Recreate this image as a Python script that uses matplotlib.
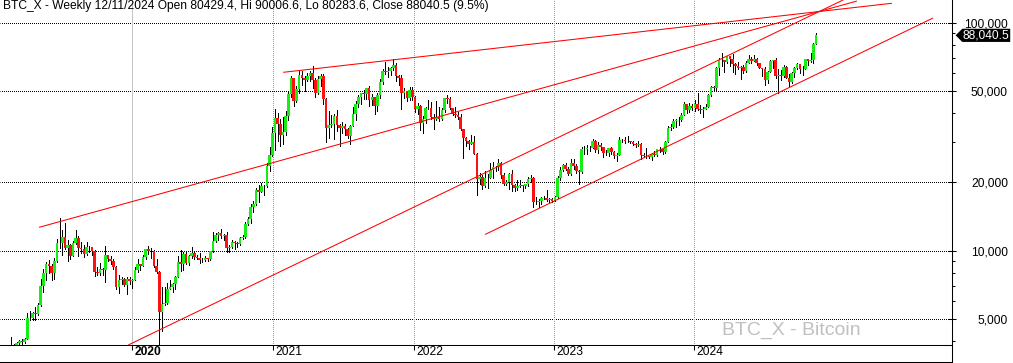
import numpy as np
import pandas as pd
import matplotlib
matplotlib.use("Agg")
import matplotlib.pyplot as plt
import matplotlib.dates as mdates
import matplotlib.ticker as mticker
from matplotlib.lines import Line2D
from matplotlib.path import Path
from matplotlib.transforms import ScaledTranslation, blended_transform_factory

plt.rcParams['font.family'] = ['Liberation Sans', 'DejaVu Sans']

# ---------------- data (weekly bars, Monday start) ----------------
first_week = "2019-01-14"
first_open = 3540

close_2019 = [3530, 3540, 3410, 3620, 3620, 3830, 3860, 3920, 4010, 3980,
              4100, 5060, 5070, 5320, 5260, 5800, 6970, 8010, 8720, 8560,
              7950, 8990, 10850, 10820, 11450, 10250, 10550, 9500, 10800, 11400,
              10300, 10140, 9630, 10400, 10360, 10000, 8050, 7990, 8270, 8220,
              9550, 9200, 9040, 8500, 6900, 7420, 7510, 7090, 7510, 7390, 7410]
high_2019 = [3700, 3640, 3560, 3680, 3700, 4200, 3900, 3970, 4050, 4080,
             4150, 5340, 5450, 5370, 5640, 5900, 7500, 8320, 8930, 9090,
             8760, 9300, 11200, 13880, 12300, 13200, 11100, 10650, 11080, 12300,
             11600, 10950, 10620, 10920, 10460, 10400, 10050, 8500, 8800, 8400,
             10500, 9600, 9480, 9150, 8600, 7860, 7650, 7570, 7650, 7690, 7500]
low_2019 = [3500, 3480, 3380, 3360, 3560, 3600, 3700, 3720, 3830, 3900,
            3920, 4080, 4950, 4950, 4950, 5200, 5700, 6600, 7450, 8000,
            7450, 7550, 8950, 10320, 9620, 10150, 9050, 9150, 9430, 10750,
            9500, 9800, 9350, 9600, 9900, 9600, 7750, 7800, 7850, 7850,
            7300, 9000, 8720, 8300, 6800, 6540, 7160, 6980, 6440, 7150, 6870]

close_2020 = [8190, 8700, 8600, 9350, 10170, 9920, 9990, 8560, 8040, 5390,
              5830, 5880, 6780, 6910, 7150, 7680, 8900, 8760, 9670, 8790,
              9450, 9760, 9390, 9300, 9100, 9070, 9270, 9200, 9930, 11060,
              11680, 11900, 11650, 11680, 10280, 10330, 10920, 10780, 10670, 11380,
              11490, 13030, 13740, 15480, 15960, 18410, 18180, 19150, 19140, 23480,
              26270, 32780]
high_2020 = [8450, 9190, 8750, 9590, 10200, 10500, 10240, 10020, 9180, 8180,
             6900, 6900, 7180, 7470, 7230, 7720, 9460, 10070, 9900, 9830,
             9600, 10380, 9950, 9600, 9770, 9300, 9450, 9330, 10000, 12090,
             11900, 12090, 12480, 11800, 12090, 10600, 11180, 10990, 10950, 11440,
             11700, 13330, 14090, 15960, 16480, 18800, 19420, 19900, 19420, 24300,
             28400, 34800]
low_2020 = [7400, 8090, 8250, 8570, 9150, 9700, 9300, 8450, 8000, 3860,
            4450, 5780, 5860, 6770, 6560, 6800, 7680, 8170, 8200, 8700,
            8650, 9300, 9200, 9200, 8850, 8950, 9000, 9050, 9130, 9900,
            10950, 11150, 11370, 11150, 9900, 9870, 10250, 10150, 10400, 10540,
            11250, 11420, 12950, 13200, 14850, 15870, 16330, 18000, 17620, 19000,
            22350, 26100]

close_2021 = [38360, 35790, 32290, 33110, 38900, 48720, 57400, 45140, 51200, 59000,
              57500, 55800, 58200, 60000, 56200, 49000, 56600, 58200, 46400, 34700,
              35700, 35800, 39100, 35600, 34700, 35300, 34260, 31800, 35400, 39900,
              43800, 47100, 49300, 48800, 51750, 46000, 47300, 43200, 48200, 54700,
              61500, 60900, 61300, 63300, 65500, 58600, 57300, 49400, 50100, 46700,
              50800, 47300]
high_2021 = [41950, 40100, 37860, 38530, 41000, 49700, 58350, 57500, 52600, 61780,
             61200, 58400, 60000, 61400, 64850, 57000, 58400, 59600, 59600, 46600,
             40900, 39500, 39900, 41300, 36000, 36600, 35900, 34600, 35500, 42600,
             45300, 48100, 49400, 50500, 51900, 52900, 48800, 47400, 49200, 56500,
             62900, 67000, 63700, 64200, 69000, 66300, 59200, 59100, 51900, 50200,
             52000, 52100]
low_2021 = [27700, 30400, 28850, 29240, 32300, 37400, 47000, 43000, 45000, 49300,
            53300, 50400, 55600, 55500, 51500, 47000, 48800, 53000, 43800, 30000,
            31100, 34800, 31000, 33400, 28800, 32700, 32100, 31100, 29300, 35200,
            37600, 42800, 43900, 46300, 46500, 43000, 43400, 39600, 40800, 46900,
            54000, 59600, 58000, 59000, 62300, 55700, 53500, 42000, 46800, 45500,
            45600, 45700]

close_2022 = [41900, 43100, 36300, 37900, 42400, 42200, 38400, 37700, 38400, 37800,
              41300, 46800, 46400, 42200, 39700, 39500, 38500, 34100, 31300, 30300,
              29400, 29900, 26600, 20600, 21000, 19300, 20900, 20800, 22600, 23300,
              23200, 24300, 21500, 19550, 20000, 21800, 19400, 18800, 19300, 19400,
              19200, 19600, 20600, 20900, 16300, 16300, 16450, 17100, 17100, 16750,
              16840, 16600]
high_2022 = [47600, 44400, 43500, 38900, 42600, 45800, 44700, 39800, 45400, 42600,
             42300, 46900, 48200, 47000, 42400, 42900, 40700, 39900, 34200, 31500,
             30600, 32300, 31700, 26900, 21900, 21500, 22400, 21600, 24300, 24600,
             23600, 25200, 24400, 21900, 20500, 21900, 22700, 19600, 20400, 20500,
             19500, 19700, 21000, 21400, 21000, 17200, 16900, 17200, 17400, 18400,
             16950, 16950]
low_2022 = [40600, 39700, 34000, 32900, 36300, 41800, 38000, 34300, 37600, 37200,
            37600, 40500, 44300, 42000, 39200, 38600, 37700, 33800, 25400, 28700,
            28000, 29300, 26500, 17600, 19700, 18700, 19000, 18900, 20800, 20800,
            22400, 22700, 20800, 19500, 19500, 18600, 18300, 18200, 18500, 19100,
            18200, 18900, 19300, 20000, 15600, 16000, 15500, 16000, 16800, 16500,
            16400, 16400]

close_2023 = [17200, 20900, 22700, 23700, 22900, 21800, 24300, 23500, 22400, 22100,
              28000, 27900, 28200, 28300, 30300, 27600, 29200, 28400, 26900, 26750,
              28100, 27100, 25900, 26300, 30500, 30600, 30200, 30200, 30100, 29300,
              29100, 29300, 26200, 26100, 25900, 25800, 26500, 26300, 27900, 27900,
              27100, 30000, 34500, 35000, 37100, 37400, 37400, 39500, 43800, 41400,
              43000, 42300]
high_2023 = [17300, 21200, 23300, 23900, 24200, 23400, 25200, 25200, 23900, 22600,
             28400, 28900, 29200, 28800, 31000, 30500, 30000, 29800, 28600, 27600,
             28200, 28400, 27400, 26800, 31400, 31000, 31400, 31800, 30300, 30300,
             29700, 30200, 29700, 26800, 28100, 26100, 26800, 27400, 28000, 28600,
             28000, 30300, 35200, 35900, 38000, 37900, 38400, 40000, 44700, 44000,
             44300, 43800]
low_2023 = [16600, 17100, 20400, 22300, 22600, 21400, 21500, 22800, 21900, 19600,
            21900, 26600, 26500, 27300, 28200, 27200, 26900, 27700, 25800, 26300,
            26100, 26600, 25400, 24800, 26300, 29900, 29800, 30000, 29600, 29000,
            28600, 28800, 25200, 25800, 25400, 25400, 24900, 26000, 26000, 27200,
            26500, 26900, 29900, 33900, 34500, 34800, 35700, 36900, 39500, 40200,
            40600, 41400]

close_2024 = [43900, 41700, 41600, 42000, 42600, 48300, 52100, 51700, 63100, 68900,
              68400, 67200, 71300, 69400, 65700, 64900, 63100, 64000, 61500, 66300,
              69000, 67800, 69600, 66600, 63200, 62700, 55800, 60800, 68200, 68300,
              58100, 58700, 58400, 64200, 57300, 54800, 60000, 63600, 65600, 62800,
              62900, 69000, 67900, 68800, 80429.4, 88040.5]
high_2024 = [45900, 49000, 43600, 42800, 43900, 48600, 52800, 52900, 64000, 70000,
             73800, 68900, 71700, 71500, 72800, 66900, 67300, 64700, 65500, 67700,
             71900, 70600, 71900, 70000, 66900, 63400, 63800, 61300, 68400, 68500,
             70000, 62700, 61800, 65000, 64900, 59800, 60700, 64100, 66500, 66100,
             64500, 69400, 69500, 73600, 81500, 90006.6]
low_2024 = [40800, 41500, 40300, 38500, 41800, 42500, 47700, 50600, 50900, 59000,
            64600, 60800, 66900, 64500, 61000, 59600, 62400, 56500, 60200, 60800,
            66600, 66700, 67800, 65100, 63000, 58400, 53500, 54300, 60700, 63400,
            57100, 49000, 56100, 57800, 57200, 52600, 54500, 57600, 62700, 60100,
            58900, 62400, 65100, 67500, 66800, 80283.6]

year_ticks = ["2020-01-01", "2021-01-01", "2022-01-01", "2023-01-01", "2024-01-01"]
year_labels = ["2020", "2021", "2022", "2023", "2024"]
price_ticks = [5000, 10000, 20000, 50000, 100000]
price_labels = ["5,000", "10,000", "20,000", "50,000", "100,000"]

# trend lines: (dates, prices) anchor pairs
trend_a_dates = ["2019-05-03", "2025-02-27"]
trend_a_prices = [12660, 124500]
trend_b_dates = ["2021-01-27", "2025-05-29"]
trend_b_prices = [60600, 121700]
trend_c_dates = ["2019-12-21", "2025-01-22"]
trend_c_prices = [3858, 125800]
trend_d_dates = ["2022-07-06", "2025-09-13"]
trend_d_prices = [11780, 104860]

title_text = ("BTC_X - Weekly 12/11/2024 Open 80429.4, Hi 90006.6, "
              "Lo 80283.6, Close 88040.5 (9.5%)")
watermark_text = "BTC_X - Bitcoin"
last_label = "88,040.5"

x_range = ["2019-01-21 10:00", "2025-11-02 02:00"]
y_range = [3857, 125800]

# ---------------- figure ----------------
W, H = 1013, 363
fig = plt.figure(figsize=(W / 100, H / 100), dpi=100)
AX_R = 952.3      # px, right spine
AX_B = 345.0      # px from top, bottom spine
ax = fig.add_axes([0, (H - AX_B) / H, AX_R / W, AX_B / H])
ax.set_yscale('log')
ax.set_xlim(mdates.date2num(pd.Timestamp(x_range[0])), mdates.date2num(pd.Timestamp(x_range[1])))
ax.set_ylim(*y_range)

closes = np.array(close_2019 + close_2020 + close_2021 + close_2022 + close_2023 + close_2024, float)
highs = np.array(high_2019 + high_2020 + high_2021 + high_2022 + high_2023 + high_2024, float)
lows = np.array(low_2019 + low_2020 + low_2021 + low_2022 + low_2023 + low_2024, float)
opens = np.concatenate([[first_open], closes[:-1]])
dates = pd.date_range(first_week, periods=len(closes), freq="7D")
xs = mdates.date2num(dates) + 1.5

GREEN = '#14ee14'
RED = '#ff1010'
up = closes >= opens
hi_draw = np.maximum(highs, np.maximum(opens, closes))
lo_draw = np.minimum(lows, np.minimum(opens, closes))
THIN = 0.55  # ~1 device pixel when not antialiased
ax.vlines(xs, lo_draw, hi_draw, colors='black', linewidth=THIN, zorder=2,
          antialiased=False)
ax.bar(xs[up], closes[up] - opens[up], bottom=opens[up], width=6.8,
       color=GREEN, linewidth=0, zorder=3, antialiased=False)
ax.bar(xs[~up], opens[~up] - closes[~up], bottom=closes[~up], width=6.8,
       color=RED, linewidth=0, zorder=3, antialiased=False)

# grid lines (dotted, 1 px on / 1 px off, pattern shifted half a pixel to land on pixels)
PX = 0.72  # one pixel in points
for p in price_ticks:
    ax.axhline(p, color='black', linewidth=PX, linestyle=(0.5, (1, 1)), zorder=1)
for d in year_ticks:
    ts = pd.Timestamp(d)
    if ts.year % 10 == 0:
        ax.axvline(mdates.date2num(ts), color='#c4c4c4', linewidth=THIN, zorder=1,
                   antialiased=False)
    else:
        ax.axvline(mdates.date2num(ts), color='#9a9a9a', linewidth=PX,
                   linestyle=(0.5, (1, 1)), zorder=1)

# trend lines
for dd, pp in [(trend_a_dates, trend_a_prices), (trend_b_dates, trend_b_prices),
               (trend_c_dates, trend_c_prices), (trend_d_dates, trend_d_prices)]:
    ax.plot(mdates.date2num(pd.to_datetime(dd)), pp, color='#ff0000',
            linewidth=0.75, zorder=4, solid_capstyle='butt', antialiased=True)

# spines
for s in ['left', 'top']:
    ax.spines[s].set_visible(False)
for s in ['right', 'bottom']:
    ax.spines[s].set_linewidth(0.75)
    ax.spines[s].set_color('black')

FS = 8.64  # 12 px

# y axis on right
ax.yaxis.tick_right()
ax.set_yticks(price_ticks)
ax.set_yticklabels(price_labels)
ax.yaxis.set_minor_locator(mticker.LogLocator(base=10, subs=np.arange(2, 10), numticks=20))
ax.yaxis.set_minor_formatter(mticker.NullFormatter())
ax.tick_params(axis='y', which='major', direction='inout', length=6.2, width=0.75,
               pad=37.0, labelsize=FS, labelcolor='black', left=False, right=True)
ax.tick_params(axis='y', which='minor', direction='out', length=1.8, width=0.75,
               left=False, right=True)
for lab in ax.get_yticklabels():
    lab.set_horizontalalignment('right')

# x axis
ax.set_xticks(mdates.date2num(pd.to_datetime(year_ticks)))
ax.set_xticklabels(year_labels)
ax.xaxis.set_minor_locator(mticker.NullLocator())
ax.tick_params(axis='x', which='major', direction='out', length=3.6, width=0.75,
               pad=-2.9, labelsize=FS, labelcolor='black')
xlabs = ax.get_xticklabels()
for i, lab in enumerate(xlabs):
    lab.set_horizontalalignment('left')
    lab.set_transform(lab.get_transform() + ScaledTranslation(2.5 / 100, 0, fig.dpi_scale_trans))
    if pd.Timestamp(year_ticks[i]).year % 10 == 0:
        lab.set_fontweight('bold')

# extra frame lines (right spine extension and bottom rule)
fig.add_artist(Line2D([AX_R / W, AX_R / W], [0, (H - AX_B) / H], transform=fig.transFigure,
                      color='black', linewidth=0.75))
fig.add_artist(Line2D([0, AX_R / W], [1.0 / H, 1.0 / H], transform=fig.transFigure,
                      color='black', linewidth=0.75))

# title
fig.text(3 / W, 1.0, title_text, ha='left', va='top', fontsize=FS, color='black')

# watermark
fig.text(722 / W, 1 - 330 / H, watermark_text, ha='left', va='center',
         fontsize=14, color='#c0c0c0')


# last price tag
def tag_box(x0, y0, width, height, mutation_size, *args):
    pad = 0.05 * mutation_size
    x0 -= pad
    y0 -= pad
    x1 = x0 + width + 2 * pad
    y1 = y0 + height + 2 * pad
    dx = (y1 - y0) / 2.0
    return Path([(x0, y0), (x1, y0), (x1, y1), (x0, y1), (x0 - dx, (y0 + y1) / 2), (x0, y0)],
                closed=True)


ax.annotate(last_label, xy=(1.0, closes[-1]),
            xycoords=blended_transform_factory(ax.transAxes, ax.transData),
            xytext=(7.6, 0), textcoords='offset points', ha='left', va='center',
            fontsize=FS, color='white', annotation_clip=False, zorder=10,
            bbox=dict(boxstyle=tag_box, fc='black', ec='black', lw=0))

fig.savefig('out.png', dpi=100)
